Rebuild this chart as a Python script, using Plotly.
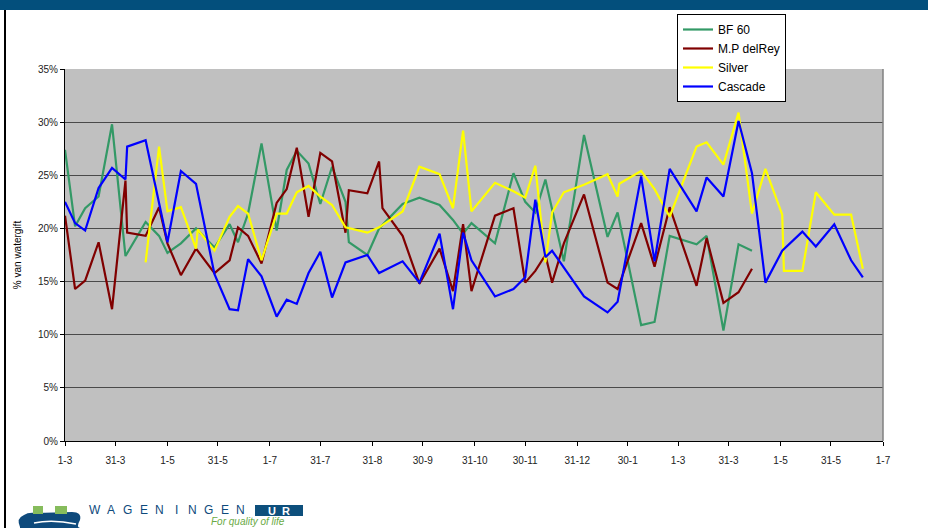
import plotly.graph_objects as go
import pandas as pd

# ---------------- data ----------------
START = "2006-03-01"
day_offsets = [0, 6, 12, 20, 28, 36, 37, 48, 56, 61, 69, 78, 79, 89, 98, 103, 109, 117,
               126, 132, 138, 145, 152, 159, 167, 169, 180, 187, 189, 201, 211, 223, 231,
               237, 242, 256, 267, 274, 280, 286, 290, 297, 309, 323, 329, 330, 343, 351,
               360, 376, 382, 392, 401, 409, 417, 427, 428, 439, 447, 458, 468, 475]

N = None
bf60 = [27.4, 20.2, 21.9, 23.0, 29.8, 17.4, N, 20.6, 19.3, 17.7, 18.6, 20.0, N, 18.2, 20.4, 18.7,
        21.4, 28.0, 19.8, 25.5, 27.3, 26.1, 22.3, 25.8, 22.5, 18.7, 17.5, 20.0, N, 22.3, 22.9,
        22.2, 20.8, 19.5, 20.5, 18.6, 25.2, 22.5, 21.5, 24.6, N, 16.9, 28.8, 19.2, 21.5, N,
        10.9, 11.2, 19.3, 18.5, 19.3, 10.4, 18.5, 17.9, N, N, N, N, N, N, N, N]
delrey = [21.2, 14.3, 15.1, 18.7, 12.4, 24.5, 19.6, 19.3, 22.0, 18.6, 15.6, 18.1, N, 15.8, 17.0,
          20.1, 19.3, 16.7, 22.4, 23.7, 27.6, 21.1, 27.1, 26.3, 19.6, 23.6, 23.3, 26.3, 21.9,
          19.3, 14.8, 18.1, 14.1, 20.4, 14.1, 21.2, 21.9, 14.9, 16.0, 17.5, 14.9, 18.6, 23.2,
          14.9, 14.3, N, 20.5, 16.4, 22.0, 14.6, 19.1, 13.0, 14.0, 16.2, N, N, N, N, N, N, N, N]
silver = [N, N, N, N, N, N, N, 16.8, 27.7, 21.6, 22.0, 18.1, 19.9, 17.9, 21.1, 22.1, 21.4, 17.0,
          21.4, 21.4, 23.4, 24.0, 23.0, 22.2, 20.1, N, 19.6, 20.1, N, 21.6, 25.8, 25.1, 21.9,
          29.2, 21.6, 24.3, 23.5, 22.9, 25.9, 16.8, 21.5, 23.4, 24.1, 25.1, 23.0, 24.2, 25.4,
          23.7, 21.1, 27.7, 28.1, 26.0, 30.9, 21.4, 25.6, 21.3, 16.0, 16.0, 23.4, 21.3, 21.3, 16.2]
cascade = [22.5, 20.5, 19.8, 23.8, 25.7, 24.6, 27.7, 28.3, N, 18.7, 25.4, 24.2, N, 15.7, 12.4,
           12.3, 17.1, 15.5, 11.7, 13.3, 12.9, 15.8, 17.8, 13.5, 16.8, N, 17.5, 15.8, N, 16.9,
           14.9, 19.5, 12.4, 19.6, 17.0, 13.6, 14.3, 15.4, 22.7, 17.3, 17.9, N, 13.6, 12.1, 13.1,
           N, 24.9, 16.9, 25.6, 21.6, 24.8, 23.0, 30.1, 25.2, 14.9, 17.9, N, 19.7, 18.3, 20.4,
           17.0, 15.4]

series_names = ["BF 60", "M.P delRey", "Silver", "Cascade"]
series_values = [bf60, delrey, silver, cascade]
series_colors = ["#339966", "#800000", "#FFFF00", "#0000FF"]

tick_dates = ["2006-03-01", "2006-03-31", "2006-05-01", "2006-05-31", "2006-07-01",
              "2006-07-31", "2006-08-31", "2006-09-30", "2006-10-31", "2006-11-30",
              "2006-12-31", "2007-01-30", "2007-03-01", "2007-03-31", "2007-05-01",
              "2007-05-31", "2007-07-01"]
tick_labels = ["1-3", "31-3", "1-5", "31-5", "1-7", "31-7", "31-8", "30-9", "31-10", "30-11",
               "31-12", "30-1", "1-3", "31-3", "1-5", "31-5", "1-7"]
y_ticks = [0, 5, 10, 15, 20, 25, 30, 35]
y_tick_labels = ["0%", "5%", "10%", "15%", "20%", "25%", "30%", "35%"]

dates = pd.to_datetime(START) + pd.to_timedelta(day_offsets, unit="D")

# ---------------- figure ----------------
W, H = 928, 528
L, R, T, B = 65, 883, 69, 441


def pxx(x):
    return (x - L) / (R - L)


def pxy(y):
    return (B - y) / (B - T)


FONT = "Liberation Sans Narrow, Arial Narrow, Liberation Sans, Arial, sans-serif"
LOGO_BLUE = "#0e4a7c"

fig = go.Figure()
for name, vals, col in zip(series_names, series_values, series_colors):
    fig.add_trace(go.Scatter(x=dates, y=vals, mode="lines", name=name,
                             line=dict(color=col, width=2.2), connectgaps=True))

fig.update_layout(
    width=W, height=H,
    margin=dict(l=L, r=W - R, t=T, b=H - B, pad=0),
    paper_bgcolor="white", plot_bgcolor="#C0C0C0",
    font=dict(family=FONT, size=10, color="#222222"),
    showlegend=True,
    legend=dict(x=pxx(677), y=pxy(14), xanchor="left", yanchor="top",
                bgcolor="white", bordercolor="black", borderwidth=1,
                font=dict(family=FONT, size=12, color="black"),
                itemwidth=30, tracegroupgap=0),
    xaxis=dict(type="date", range=[tick_dates[0], tick_dates[-1]],
               tickvals=tick_dates, ticktext=tick_labels,
               showgrid=False, zeroline=False,
               showline=True, linecolor="black", linewidth=1,
               ticks="outside", ticklen=4, tickcolor="black",
               ticklabelstandoff=6,
               tickfont=dict(family=FONT, size=10, color="#222222")),
    yaxis=dict(range=[0, 35], tickvals=y_ticks, ticktext=y_tick_labels,
               showgrid=True, gridcolor="#4a4a4a", gridwidth=1.3, zeroline=False,
               showline=True, linecolor="black", linewidth=1,
               ticks="outside", ticklen=4, tickcolor="black",
               tickfont=dict(family=FONT, size=10, color="#222222"),
               title=dict(text="% van watergift", standoff=14,
                          font=dict(family=FONT, size=10, color="black"))),
)

shapes = []
# top banner
shapes.append(dict(type="rect", xref="paper", yref="paper", x0=pxx(0), x1=pxx(W),
                   y0=pxy(10), y1=pxy(0), fillcolor="#034f7c", line=dict(width=0), layer="above"))
# slide left border
shapes.append(dict(type="line", xref="paper", yref="paper", x0=pxx(5), x1=pxx(5),
                   y0=pxy(10), y1=pxy(H), line=dict(color="black", width=2)))
# plot area right border
shapes.append(dict(type="line", xref="paper", yref="paper", x0=1, x1=1, y0=0, y1=1,
                   line=dict(color="#808080", width=1.5)))
# logo: blue block + wave + green squares
shapes.append(dict(type="path", xref="paper", yref="paper",
                   path=f"M {pxx(20)},{pxy(527)} Q {pxx(16)},{pxy(518)} {pxx(24)},{pxy(515)} "
                        f"Q {pxx(28)},{pxy(512)} {pxx(36)},{pxy(513)} L {pxx(72)},{pxy(512)} "
                        f"Q {pxx(82)},{pxy(512)} {pxx(80)},{pxy(520)} Q {pxx(76)},{pxy(527)} {pxx(80)},{pxy(528)} "
                        f"L {pxx(20)},{pxy(528)} Z",
                   fillcolor=LOGO_BLUE, line=dict(width=0)))
shapes.append(dict(type="path", xref="paper", yref="paper",
                   path=f"M {pxx(34)},{pxy(523)} Q {pxx(52)},{pxy(519)} {pxx(76)},{pxy(524)}",
                   line=dict(color="white", width=1.5)))
shapes.append(dict(type="rect", xref="paper", yref="paper", x0=pxx(33), x1=pxx(43),
                   y0=pxy(514), y1=pxy(506), fillcolor="#86bc5c", line=dict(width=0)))
shapes.append(dict(type="rect", xref="paper", yref="paper", x0=pxx(55), x1=pxx(67),
                   y0=pxy(514), y1=pxy(506), fillcolor="#86bc5c", line=dict(width=0)))
# UR box
shapes.append(dict(type="rect", xref="paper", yref="paper", x0=pxx(255), x1=pxx(303),
                   y0=pxy(516), y1=pxy(505), fillcolor="#0d4f7c", line=dict(width=0)))
fig.update_layout(shapes=shapes)

for i, ch in enumerate("WAGENINGEN"):
    fig.add_annotation(xref="paper", yref="paper", x=pxx(95 + i * 16.2), y=pxy(510),
                       xanchor="center", yanchor="middle", text=ch, showarrow=False,
                       font=dict(family="Liberation Sans, Arial, sans-serif", size=12, color=LOGO_BLUE))
fig.add_annotation(xref="paper", yref="paper", x=pxx(279), y=pxy(510.5), xanchor="center", yanchor="middle",
                   text="<b>U  R</b>", showarrow=False,
                   font=dict(family="Liberation Sans, Arial, sans-serif", size=11, color="white"))
fig.add_annotation(xref="paper", yref="paper", x=pxx(209), y=pxy(521), xanchor="left", yanchor="middle",
                   text="<i>For quality of life</i>", showarrow=False,
                   font=dict(family="Liberation Sans Narrow, Liberation Sans, sans-serif", size=10, color="#6aaa45"))

fig.write_html("out.html", config={"displayModeBar": False},
               post_script="document.body.style.margin='0px';")
